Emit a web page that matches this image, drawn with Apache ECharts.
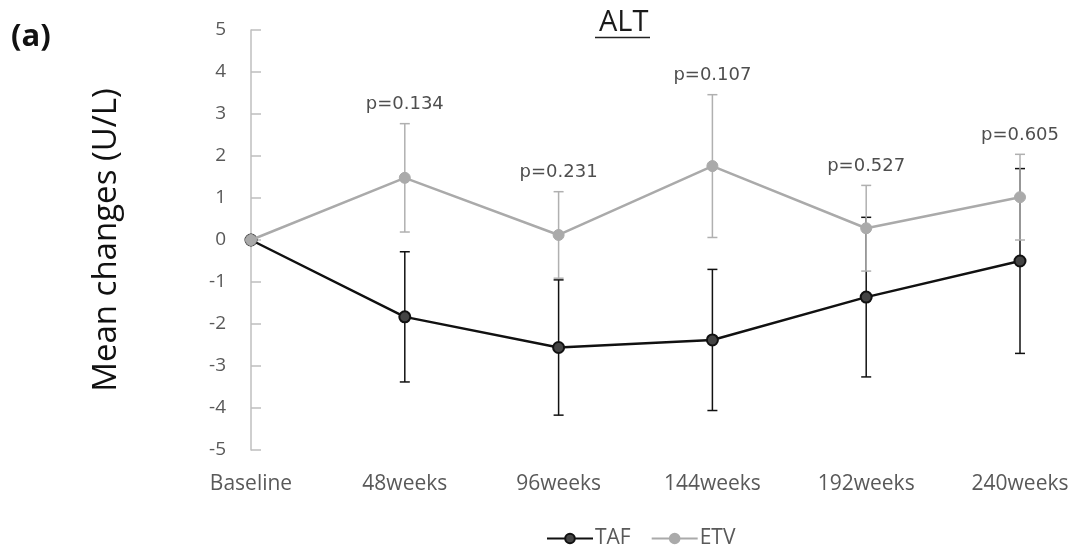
<!DOCTYPE html>
<html>
<head>
<meta charset="utf-8">
<script src="https://cdn.jsdelivr.net/npm/echarts@6/dist/echarts.min.js"></script>
<style>
  html, body { margin: 0; padding: 0; background: #fff; }
  #altChart { width: 1089px; height: 545px; }
</style>
</head>
<body>
<div id="altChart"></div>
<script>
// data
var categories = ["Baseline", "48weeks", "96weeks", "144weeks", "192weeks", "240weeks"];
var tafMean = [0, -1.83, -2.56, -2.38, -1.36, -0.5];
var tafErr = [0, 1.55, 1.61, 1.68, 1.9, 2.2];
var etvMean = [0, 1.48, 0.12, 1.76, 0.28, 1.02];
var etvErr = [0, 1.29, 1.03, 1.7, 1.02, 1.02];
var pValues = ["", "p=0.134", "p=0.231", "p=0.107", "p=0.527", "p=0.605"];
var yTicks = [-5, 5, 1]; // min, max, interval

var chartDom = document.getElementById("altChart");
var myChart = echarts.init(chartDom);

function errData(mean, err) {
  var out = [];
  for (var i = 0; i < mean.length; i++) {
    if (err[i] > 0) out.push([i, mean[i] - err[i], mean[i] + err[i]]);
  }
  return out;
}

// vertical whisker with caps, built from the axis coords
function errBar(color) {
  return function (params, api) {
    var top = api.coord([api.value(0), api.value(2)]);
    var bot = api.coord([api.value(0), api.value(1)]);
    var half = 5;
    var style = { stroke: color, lineWidth: 1.5 };
    return {
      type: "group",
      children: [
        { type: "line", shape: { x1: top[0], y1: top[1], x2: bot[0], y2: bot[1] }, style: style },
        { type: "line", shape: { x1: top[0] - half, y1: top[1], x2: top[0] + half, y2: top[1] }, style: style },
        { type: "line", shape: { x1: bot[0] - half, y1: bot[1], x2: bot[0] + half, y2: bot[1] }, style: style }
      ]
    };
  };
}

var pData = [];
for (var i = 0; i < pValues.length; i++) {
  if (pValues[i]) pData.push([i, etvMean[i] + etvErr[i]]);
}

var option = {
  backgroundColor: "#fff",
  animation: false,
  title: {
    text: "ALT",
    left: 594,
    top: 3,
    textStyle: { fontFamily: "Open Sans", fontSize: 29, fontWeight: "normal", color: "#1a1a1a" }
  },
  graphic: [
    {
      type: "text",
      left: 11,
      top: 22,
      style: { text: "(a)", font: "bold 31px 'Open Sans'", fill: "#111" }
    },
    {
      type: "line",
      shape: { x1: 595, y1: 37.5, x2: 650, y2: 37.5 },
      style: { stroke: "#222", lineWidth: 1.5 }
    }
  ],
  legend: {
    left: 546,
    top: 528,
    padding: 0,
    itemWidth: 46,
    itemHeight: 12,
    itemGap: 20,
    data: ["TAF", "ETV"],
    textStyle: { fontFamily: "Open Sans", fontSize: 21, color: "#595959", padding: [0, 0, 0, -3] }
  },
  grid: { left: 251, right: 69, top: 30, bottom: 95 },
  xAxis: {
    type: "category",
    boundaryGap: false,
    data: categories,
    axisLine: { show: false },
    axisTick: { show: false },
    axisLabel: { margin: 24, fontFamily: "Open Sans", fontSize: 21, color: "#595959" }
  },
  yAxis: {
    type: "value",
    min: yTicks[0],
    max: yTicks[1],
    interval: yTicks[2],
    name: "Mean changes (U/L)",
    nameLocation: "middle",
    nameGap: 128,
    nameTextStyle: { fontFamily: "Open Sans", fontSize: 33, color: "#111" },
    splitLine: { show: false },
    axisLine: { show: true, lineStyle: { color: "#bfbfbf", width: 1.5 } },
    axisTick: { show: true, inside: true, length: 10, lineStyle: { color: "#bfbfbf", width: 1.5 } },
    axisLabel: { margin: 25, fontFamily: "Open Sans", fontSize: 19, color: "#595959" }
  },
  series: [
    {
      name: "TAF err",
      type: "custom",
      renderItem: errBar("#111"),
      data: errData(tafMean, tafErr),
      z: 1
    },
    {
      name: "ETV err",
      type: "custom",
      renderItem: errBar("#b0b0b0"),
      data: errData(etvMean, etvErr),
      z: 2
    },
    {
      name: "TAF",
      type: "line",
      data: tafMean,
      symbol: "circle",
      symbolSize: 11,
      lineStyle: { color: "#111", width: 2.5 },
      itemStyle: { color: "#444", borderColor: "#111", borderWidth: 2 },
      z: 3
    },
    {
      name: "ETV",
      type: "line",
      data: etvMean,
      symbol: "circle",
      symbolSize: 11,
      lineStyle: { color: "#aaaaaa", width: 2.5 },
      itemStyle: { color: "#aaaaaa", borderColor: "#aaaaaa", borderWidth: 1 },
      z: 4
    },
    {
      name: "p",
      type: "scatter",
      symbolSize: 0,
      data: pData,
      silent: true,
      label: {
        show: true,
        position: "top",
        distance: 10,
        fontFamily: "DejaVu Sans",
        fontSize: 18,
        color: "#222",
        formatter: function (p) { return pValues[p.data[0]]; }
      },
      z: 5
    }
  ]
};

option && myChart.setOption(option);
window.addEventListener("resize", function () {
  myChart.resize();
});
</script>
</body>
</html>
